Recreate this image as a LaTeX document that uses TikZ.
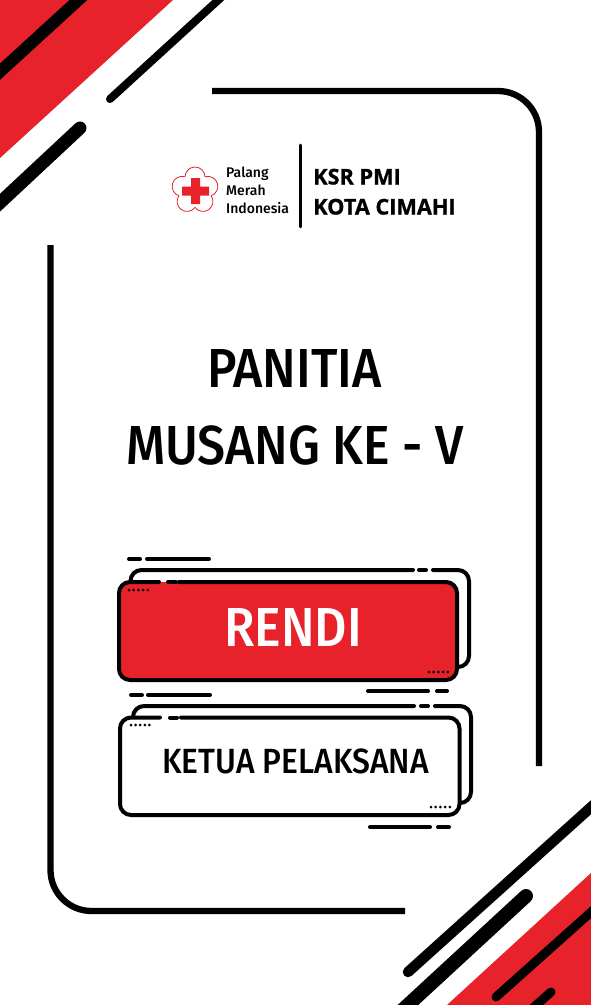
\documentclass[tikz,border=0pt]{standalone}
\usepackage{fontspec}
\setmainfont{PT Sans}
\newfontfamily\dinfont[FakeStretch=.91]{Fira Sans Medium}
\newfontfamily\logofont{Fira Sans Medium}
\newfontfamily\ksrfont[BoldFeatures={FakeBold=1}]{Open Sans}
\usepackage{xcolor}
\definecolor{pmired}{RGB}{231,34,43}
\begin{document}
\begin{tikzpicture}[x=1pt,y=-1pt,
  stripe/.style={black, line cap=round},
  framing/.style={black, line width=6.3pt, rounded corners=41pt},
  cardline/.style={black, line width=4pt, line cap=round, rounded corners=11pt},
  dashbar/.style={black, line width=4pt, line cap=round},
  dotty/.style={circle, fill=black, inner sep=0pt, minimum size=3pt},
  titletxt/.style={font=\dinfont\fontsize{55}{55}\selectfont, black, inner sep=0pt, anchor=base},
  logotxt/.style={font=\logofont\fontsize{14}{14}\selectfont, inner sep=0pt, anchor=base west},
  ksrtxt/.style={font=\ksrfont\bfseries\fontsize{21.7}{21.7}\selectfont, inner sep=0pt, anchor=base west}]
\useasboundingbox (0,0) rectangle (591,1005);
\fill[white] (0,0) rectangle (591,1005);
% corners
\fill[pmired] (0,0) -- (173,0) -- (0,158) -- cycle;
\fill[pmired] (591,873) -- (447,1005) -- (591,1005) -- cycle;
\begin{scope}
\clip (0,0) rectangle (591,1005);
\draw[stripe, line width=12pt] (-8,79) -- (86,-7);
\draw[stripe, line width=8pt] (110,99) -- (226,-7);
\draw[stripe, line width=13pt] (80,128) -- (-10,212);
\draw[stripe, line width=10.5pt] (408,972) -- (599,800);
\draw[stripe, line width=14pt] (526,896) -- (396,1016);
\draw[stripe, line width=9pt] (496,997) -- (599,905);
\draw[stripe, line width=9pt] (551,992) -- (525,1015);
\end{scope}
% frame
\draw[framing] (212,91) -- (539,91) -- (539,766);
\draw[framing] (50.5,245) -- (50.5,911) -- (405,911);
% logo
\begin{scope}[shift={(195,190.5)},x=1pt,y=1pt]
\foreach \a in {90,162,234,306,18}
  \draw[pmired, line width=.8pt] (\a:13.5) ++(\a-89:10) arc[start angle=\a-89, end angle=\a+89, radius=10];
\end{scope}
\fill[pmired] (191,178) rectangle (200,204) (182,186.5) rectangle (209,195.5);
\node[logotxt] (palang) at (226,177.5) {Palang};
\node[logotxt] (merah) at (226,195.5) {Merah};
\node[logotxt] (indo) at (226,213) {Indonesia};
\draw[black, line width=2.6pt, line cap=round] (300.5,145) -- (300.5,227);
\node[ksrtxt] (ksr) at (313,184.5) {KSR PMI};
\node[ksrtxt] (kota) at (313,214.5) {KOTA CIMAHI};
% title
\node[titletxt] (panitia) at (294.5,387) {PANITIA};
\node[titletxt] (musang) at (295,464) {MUSANG KE - V};
% card one
\draw[dashbar] (129,559) -- (140,559);
\draw[dashbar] (147,559) -- (209,559);
\draw[cardline] (130.5,590) -- (130.5,570) -- (413,570);
\draw[cardline] (433,570) -- (469,570) -- (469,667) -- (450,667);
\draw[dashbar] (419,570) -- (426,570);
\fill[pmired, rounded corners=11pt] (119,582) rectangle (457,680);
\draw[cardline] (159,582) -- (119,582) -- (119,680) -- (457,680) -- (457,582) -- (179,582);
\draw[dashbar] (168,582) -- (176,582);
\foreach \i in {0,...,4} {
  \node[dotty] at (129+4.7*\i,590) {};
  \node[dotty] at (429+4.7*\i,672) {};
}
\node[titletxt, white] (rendi) at (293,646) {RENDI};
\draw[dashbar] (368,691) -- (428,691);
\draw[dashbar] (437,691) -- (447,691);
\draw[dashbar] (131,695) -- (142,695);
\draw[dashbar] (148,695) -- (210,695);
% card two
\draw[cardline] (133,726) -- (133,706) -- (414,706);
\draw[cardline] (435,706) -- (471,706) -- (471,803) -- (452,803);
\draw[dashbar] (421,706) -- (428,706);
\fill[white, rounded corners=11pt] (120,717.5) rectangle (459.5,815);
\draw[cardline] (160,717.5) -- (120,717.5) -- (120,815) -- (459.5,815) -- (459.5,717.5) -- (181,717.5);
\draw[dashbar] (170,717.5) -- (177,717.5);
\foreach \i in {0,...,4} {
  \node[dotty] at (131+4.6*\i,725) {};
  \node[dotty] at (431+4.7*\i,807) {};
}
\node[titletxt, font=\dinfont\fontsize{35}{35}\selectfont] (ketua) at (295.5,773) {KETUA PELAKSANA};
\draw[dashbar] (370,827) -- (430,827);
\draw[dashbar] (438,827) -- (449,827);
\end{tikzpicture}
\end{document}
